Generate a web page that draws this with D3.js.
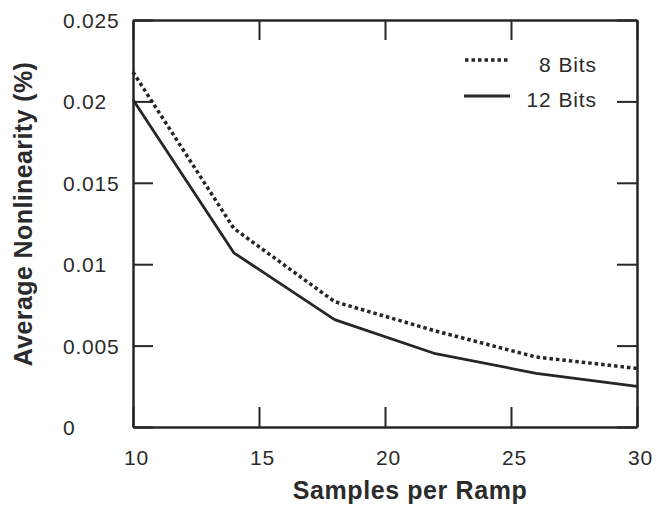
<!DOCTYPE html>
<html>
<head>
<meta charset="utf-8">
<script src="https://cdn.jsdelivr.net/npm/d3@7"></script>
<style>
  body { margin: 0; background: #fff; }
  text { font-family: "Liberation Sans", Arial, sans-serif; fill: #2b2b2b; }
</style>
</head>
<body>
<div id="chart"></div>
<script>
// data
const samples = [10, 14, 18, 22, 26, 30]
const bits8 = [0.0218, 0.0122, 0.0077, 0.0059, 0.0043, 0.0036]
const bits12 = [0.0201, 0.0107, 0.0066, 0.0045, 0.0033, 0.0025]
const xTicks = [10, 15, 20, 25, 30]
const yTicks = [0, 0.005, 0.01, 0.015, 0.02, 0.025]
const yTickLabels = ["0", "0.005", "0.01", "0.015", "0.02", "0.025"]
const seriesNames = ["8 Bits", "12 Bits"]

const W = 656, H = 517
const margin = { top: 20, left: 133, right: 19, bottom: 90 }
const ink = "#262626"

const x = d3.scaleLinear()
    .domain([10, 30])
    .range([margin.left, W - margin.right])

const y = d3.scaleLinear()
    .domain([0, 0.025])
    .range([H - margin.bottom, margin.top])

const svg = d3.select("#chart").append("svg")
    .attr("width", W)
    .attr("height", H)

const tickLen = 20

// bottom + top axes, ticks inward
const xAxis = g => g
    .attr("transform", `translate(0,${H - margin.bottom})`)
    .call(d3.axisBottom(x).tickValues(xTicks).tickSize(-tickLen).tickPadding(tickLen + 3).tickSizeOuter(0))
    .call(g => g.selectAll(".tick text")
        .attr("font-size", 21)
        .attr("letter-spacing", 0.8)
        .attr("dx", 3)
        .attr("fill", "#333"))

const xAxisTop = g => g
    .attr("transform", `translate(0,${margin.top})`)
    .call(d3.axisTop(x).tickValues(xTicks).tickSize(-tickLen).tickFormat("").tickSizeOuter(0))

const yAxis = g => g
    .attr("transform", `translate(${margin.left},0)`)
    .call(d3.axisLeft(y).tickValues(yTicks).tickSize(-tickLen).tickSizeOuter(0)
        .tickFormat((d, i) => yTickLabels[i]))
    .call(g => g.selectAll(".tick text")
        .attr("font-size", 21)
        .attr("letter-spacing", 0.8)
        .attr("fill", "#333")
        .attr("text-anchor", "start")
        .attr("x", -70)
        .attr("dy", "0.36em"))

const yAxisRight = g => g
    .attr("transform", `translate(${W - margin.right},0)`)
    .call(d3.axisRight(y).tickValues(yTicks).tickSize(-tickLen).tickFormat("").tickSizeOuter(0))

for (const ax of [xAxis, xAxisTop, yAxis, yAxisRight]) {
    svg.append("g")
        .call(ax)
        .call(g => g.selectAll(".domain").attr("stroke", ink).attr("stroke-width", 2.5))
        .call(g => g.selectAll(".tick line").attr("stroke", ink).attr("stroke-width", 2))
        .attr("font-family", null)
}

const line = d3.line()
    .x((d, i) => x(samples[i]))
    .y(d => y(d))

svg.append("path")
    .attr("fill", "none")
    .attr("stroke", ink)
    .attr("stroke-width", 3.5)
    .attr("stroke-dasharray", "3.5,3")
    .attr("d", line(bits8))

svg.append("path")
    .attr("fill", "none")
    .attr("stroke", ink)
    .attr("stroke-width", 2.8)
    .attr("stroke-linejoin", "round")
    .attr("d", line(bits12))

// legend
const legend = svg.append("g")
const legY = [60, 96]
legend.append("line")
    .attr("x1", 465).attr("x2", 508)
    .attr("y1", legY[0]).attr("y2", legY[0])
    .attr("stroke", ink).attr("stroke-width", 3.5)
    .attr("stroke-dasharray", "3.5,3")
legend.append("line")
    .attr("x1", 464).attr("x2", 510)
    .attr("y1", legY[1]).attr("y2", legY[1])
    .attr("stroke", ink).attr("stroke-width", 2.8)
legend.selectAll("text")
    .data(seriesNames)
    .join("text")
    .attr("x", 597)
    .attr("y", (d, i) => legY[i] + (i ? 4 : 5))
    .attr("dy", "0.35em")
    .attr("text-anchor", "end")
    .attr("font-size", 21)
    .attr("letter-spacing", 0.9)
    .text(d => d)

// axis titles
svg.append("text")
    .attr("x", 410)
    .attr("y", 499)
    .attr("text-anchor", "middle")
    .attr("font-size", 25)
    .attr("letter-spacing", 0.6)
    .attr("font-weight", "bold")
    .text("Samples per Ramp")

svg.append("text")
    .attr("transform", `translate(32,214) rotate(-90)`)
    .attr("text-anchor", "middle")
    .attr("font-size", 25)
    .attr("letter-spacing", 0.4)
    .attr("font-weight", "bold")
    .text("Average Nonlinearity (%)")
</script>
</body>
</html>
